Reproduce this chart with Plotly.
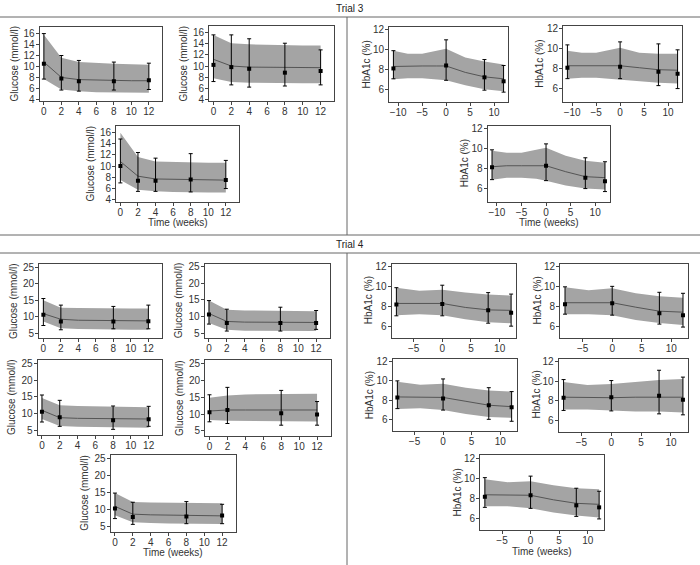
import plotly.graph_objects as go

# ---------------- DATA ----------------
# Trial 3 glucose
T3_GLU_OBS_X = [0, 2, 4, 8, 12]
T3_GLU_BAND_X = [0, 2, 4, 6, 8, 10, 12]
g1_band_hi = [15.8, 11.6, 10.8, 10.6, 10.5, 10.4, 10.3]
g1_band_lo = [7.7, 5.8, 5.5, 5.3, 5.2, 5.2, 5.2]
g1_fit = [10.8, 8.0, 7.6, 7.5, 7.4, 7.4, 7.4]
g1_mean = [10.5, 7.8, 7.3, 7.3, 7.5]
g1_lo = [7.7, 5.7, 5.5, 5.7, 5.8]
g1_hi = [16.0, 12.0, 11.1, 10.8, 10.6]

g2_band_hi = [15.6, 14.1, 13.9, 13.8, 13.7, 13.7, 13.7]
g2_band_lo = [7.8, 7.1, 7.0, 6.95, 6.9, 6.9, 6.9]
g2_fit = [11.2, 10.0, 9.8, 9.75, 9.7, 9.7, 9.7]
g2_mean = [10.2, 9.8, 9.5, 8.8, 9.1]
g2_lo = [7.2, 6.6, 6.2, 6.4, 6.6]
g2_hi = [15.6, 15.6, 14.9, 14.1, 12.9]

g3_band_hi = [15.9, 11.6, 10.8, 10.7, 10.6, 10.6, 10.6]
g3_band_lo = [7.5, 5.8, 5.5, 5.4, 5.3, 5.3, 5.3]
g3_fit = [10.8, 8.2, 7.7, 7.65, 7.6, 7.55, 7.5]
g3_mean = [10.0, 7.4, 7.4, 7.6, 7.5]
g3_lo = [7.0, 5.5, 5.5, 5.4, 6.0]
g3_hi = [14.8, 12.4, 11.4, 12.2, 11.0]

# Trial 4 glucose
T4_GLU_OBS_X = [0, 2, 8, 12]
T4_GLU_BAND_X = [0, 2, 4, 6, 8, 10, 12]
g4_band_hi = [15.0, 12.7, 12.6, 12.5, 12.5, 12.5, 12.5]
g4_band_lo = [8.5, 6.5, 6.2, 6.1, 6.0, 6.0, 6.0]
g4_fit = [10.9, 9.2, 8.9, 8.8, 8.7, 8.7, 8.7]
g4_mean = [10.6, 8.5, 8.5, 8.6]
g4_lo = [7.3, 6.0, 6.3, 6.3]
g4_hi = [15.5, 13.5, 13.1, 13.5]

g5_band_hi = [14.8, 12.0, 11.8, 11.7, 11.6, 11.6, 11.6]
g5_band_lo = [8.0, 6.0, 5.7, 5.65, 5.6, 5.6, 5.6]
g5_fit = [10.9, 8.5, 8.3, 8.25, 8.2, 8.2, 8.2]
g5_mean = [10.6, 8.0, 8.0, 8.0]
g5_lo = [7.7, 5.6, 5.6, 6.1]
g5_hi = [14.8, 12.2, 12.8, 11.8]

g6_band_hi = [14.6, 12.4, 12.2, 12.1, 12.0, 11.9, 11.8]
g6_band_lo = [8.3, 6.2, 6.0, 5.9, 5.8, 5.75, 5.7]
g6_fit = [10.9, 8.7, 8.5, 8.4, 8.3, 8.3, 8.3]
g6_mean = [10.5, 8.8, 7.9, 8.2]
g6_lo = [7.4, 6.1, 5.2, 6.1]
g6_hi = [15.5, 13.9, 12.2, 12.1]

g7_band_hi = [14.8, 15.5, 15.8, 15.9, 16.0, 16.0, 16.0]
g7_band_lo = [8.2, 8.0, 7.9, 7.85, 7.8, 7.8, 7.8]
g7_fit = [10.9, 11.2, 11.2, 11.2, 11.2, 11.2, 11.2]
g7_mean = [10.5, 11.2, 10.2, 9.9]
g7_lo = [7.7, 7.2, 6.7, 6.7]
g7_hi = [15.7, 17.9, 17.0, 13.7]

g8_band_hi = [14.8, 12.2, 12.0, 11.9, 11.8, 11.8, 11.8]
g8_band_lo = [8.3, 6.2, 6.0, 5.85, 5.7, 5.7, 5.7]
g8_fit = [10.9, 8.6, 8.4, 8.3, 8.2, 8.15, 8.1]
g8_mean = [10.3, 7.8, 7.9, 8.2]
g8_lo = [7.3, 5.6, 5.8, 5.8]
g8_hi = [14.8, 12.1, 12.3, 11.5]

# Trial 3 HbA1c
T3_HBA_OBS_X = [-11, 0, 8, 12]
T3_HBA_BAND_X = [-11, -8, -5, -2, 0, 4, 8, 12]
h1_band_hi = [9.9, 9.6, 9.6, 9.9, 10.1, 9.2, 8.8, 8.5]
h1_band_lo = [7.0, 7.1, 7.1, 7.0, 6.9, 6.4, 6.0, 5.8]
h1_fit = [8.3, 8.35, 8.35, 8.35, 8.35, 7.7, 7.25, 7.05]
h1_mean = [8.1, 8.4, 7.2, 6.8]
h1_lo = [7.05, 6.9, 5.9, 5.7]
h1_hi = [9.9, 11.0, 9.0, 8.4]

h2_band_hi = [9.8, 9.6, 9.6, 9.9, 10.1, 9.6, 9.5, 9.5]
h2_band_lo = [7.0, 7.1, 7.1, 7.0, 6.9, 6.75, 6.6, 6.5]
h2_fit = [8.3, 8.3, 8.3, 8.3, 8.3, 8.1, 7.9, 7.85]
h2_mean = [8.1, 8.2, 7.7, 7.5]
h2_lo = [7.0, 7.0, 6.3, 6.0]
h2_hi = [10.4, 10.7, 10.5, 9.9]

h3_band_hi = [9.8, 9.6, 9.6, 9.9, 10.1, 9.3, 8.8, 8.6]
h3_band_lo = [6.9, 7.1, 7.1, 7.0, 6.8, 6.3, 6.0, 5.9]
h3_fit = [8.2, 8.3, 8.3, 8.3, 8.3, 7.7, 7.2, 7.1]
h3_mean = [8.15, 8.3, 7.1, 6.75]
h3_lo = [6.9, 6.8, 6.0, 5.7]
h3_hi = [9.9, 10.5, 9.1, 8.7]

# Trial 4 HbA1c
T4_HBA_OBS_X = [-8, 0, 8, 12]
T4_HBA_BAND_X = [-8, -4, 0, 4, 8, 12]
h4_band_hi = [9.9, 9.6, 9.7, 9.4, 9.2, 9.1]
h4_band_lo = [7.1, 7.2, 7.1, 6.7, 6.4, 6.3]
h4_fit = [8.3, 8.3, 8.3, 7.9, 7.65, 7.6]
h4_mean = [8.2, 8.25, 7.6, 7.35]
h4_lo = [7.05, 7.05, 6.3, 6.0]
h4_hi = [9.9, 10.15, 9.4, 9.25]

h5_band_hi = [9.9, 9.6, 9.8, 9.3, 9.0, 8.85]
h5_band_lo = [7.2, 7.2, 7.1, 6.6, 6.3, 6.1]
h5_fit = [8.35, 8.35, 8.35, 7.9, 7.5, 7.4]
h5_mean = [8.2, 8.3, 7.3, 7.1]
h5_lo = [7.2, 7.1, 6.2, 5.9]
h5_hi = [9.95, 10.0, 9.4, 9.3]

h6_band_hi = [9.9, 9.6, 9.7, 9.3, 9.0, 8.9]
h6_band_lo = [7.1, 7.2, 7.0, 6.6, 6.3, 6.2]
h6_fit = [8.35, 8.3, 8.3, 7.9, 7.5, 7.35]
h6_mean = [8.3, 8.2, 7.5, 7.3]
h6_lo = [7.15, 7.0, 6.05, 5.85]
h6_hi = [10.0, 10.2, 9.3, 8.9]

h7_band_hi = [9.9, 9.6, 9.7, 9.9, 10.1, 10.2]
h7_band_lo = [7.1, 7.1, 7.0, 6.9, 6.9, 6.8]
h7_fit = [8.35, 8.3, 8.3, 8.35, 8.35, 8.35]
h7_mean = [8.3, 8.35, 8.5, 8.1]
h7_lo = [7.0, 6.95, 6.65, 6.55]
h7_hi = [10.15, 10.05, 11.1, 10.4]

h8_band_hi = [9.9, 9.6, 9.7, 9.3, 9.0, 8.9]
h8_band_lo = [7.2, 7.2, 7.0, 6.6, 6.3, 6.1]
h8_fit = [8.35, 8.3, 8.3, 7.85, 7.5, 7.4]
h8_mean = [8.15, 8.3, 7.3, 7.1]
h8_lo = [7.1, 7.0, 6.2, 5.95]
h8_hi = [10.05, 10.2, 9.0, 8.7]

T3_GLU_YTICKS = [4, 6, 8, 10, 12, 14, 16]
T4_GLU_YTICKS = [5, 10, 15, 20, 25]
HBA_YTICKS = [6, 8, 10, 12]
GLU_XTICKS = [0, 2, 4, 6, 8, 10, 12]
T3_HBA_XTICKS = [-10, -5, 0, 5, 10]
T4_HBA_XTICKS = [-5, 0, 5, 10]

GLU_TITLE = "Glucose (mmol/l)"
HBA_TITLE = "HbA1c (%)"
X_TITLE = "Time (weeks)"
HEADERS = ["Trial 3", "Trial 4"]

# ---------------- LAYOUT ----------------
W, H = 700, 565
FONT = "Liberation Sans, Arial, sans-serif"
BAND = "#a4a4a4"
FIT = "#555555"
FRAME = "#444444"
TXT = "#333333"

panels = [
    ((39.5, 162, 27, 101), T3_GLU_BAND_X, g1_band_hi, g1_band_lo, g1_fit, T3_GLU_OBS_X, g1_mean, g1_lo, g1_hi,
     [-0.5, 13.5], [3.7, 17.2], GLU_XTICKS, T3_GLU_YTICKS, GLU_TITLE, None),
    ((209, 334, 26, 101), T3_GLU_BAND_X, g2_band_hi, g2_band_lo, g2_fit, T3_GLU_OBS_X, g2_mean, g2_lo, g2_hi,
     [-0.5, 13.5], [3.7, 17.2], GLU_XTICKS, T3_GLU_YTICKS, GLU_TITLE, None),
    ((116, 239, 125.5, 201.5), T3_GLU_BAND_X, g3_band_hi, g3_band_lo, g3_fit, T3_GLU_OBS_X, g3_mean, g3_lo, g3_hi,
     [-0.5, 13.5], [3.7, 17.2], GLU_XTICKS, T3_GLU_YTICKS, GLU_TITLE, X_TITLE),
    ((389, 508, 27, 102), T3_HBA_BAND_X, h1_band_hi, h1_band_lo, h1_fit, T3_HBA_OBS_X, h1_mean, h1_lo, h1_hi,
     [-11.92, 12.92], [4.7, 12.3], T3_HBA_XTICKS, HBA_YTICKS, HBA_TITLE, None),
    ((563, 682, 26, 101.5), T3_HBA_BAND_X, h2_band_hi, h2_band_lo, h2_fit, T3_HBA_OBS_X, h2_mean, h2_lo, h2_hi,
     [-11.92, 12.92], [4.7, 12.3], T3_HBA_XTICKS, HBA_YTICKS, HBA_TITLE, None),
    ((487.5, 609.5, 126, 201.5), T3_HBA_BAND_X, h3_band_hi, h3_band_lo, h3_fit, T3_HBA_OBS_X, h3_mean, h3_lo, h3_hi,
     [-11.92, 12.92], [4.7, 12.3], T3_HBA_XTICKS, HBA_YTICKS, HBA_TITLE, X_TITLE),
    ((39, 161.5, 264, 338), T4_GLU_BAND_X, g4_band_hi, g4_band_lo, g4_fit, T4_GLU_OBS_X, g4_mean, g4_lo, g4_hi,
     [-0.5, 13.5], [3.5, 26], GLU_XTICKS, T4_GLU_YTICKS, GLU_TITLE, None),
    ((204.5, 329.5, 263.5, 338), T4_GLU_BAND_X, g5_band_hi, g5_band_lo, g5_fit, T4_GLU_OBS_X, g5_mean, g5_lo, g5_hi,
     [-0.5, 13.5], [3.5, 26], GLU_XTICKS, T4_GLU_YTICKS, GLU_TITLE, None),
    ((37.5, 162, 360, 435), T4_GLU_BAND_X, g6_band_hi, g6_band_lo, g6_fit, T4_GLU_OBS_X, g6_mean, g6_lo, g6_hi,
     [-0.5, 13.5], [3.5, 26], GLU_XTICKS, T4_GLU_YTICKS, GLU_TITLE, None),
    ((205, 330.5, 360, 436), T4_GLU_BAND_X, g7_band_hi, g7_band_lo, g7_fit, T4_GLU_OBS_X, g7_mean, g7_lo, g7_hi,
     [-0.5, 13.5], [3.5, 26], GLU_XTICKS, T4_GLU_YTICKS, GLU_TITLE, None),
    ((110.5, 235.5, 455, 531.5), T4_GLU_BAND_X, g8_band_hi, g8_band_lo, g8_fit, T4_GLU_OBS_X, g8_mean, g8_lo, g8_hi,
     [-0.5, 13.5], [3.5, 26], GLU_XTICKS, T4_GLU_YTICKS, GLU_TITLE, X_TITLE),
    ((391.5, 516, 264, 337.5), T4_HBA_BAND_X, h4_band_hi, h4_band_lo, h4_fit, T4_HBA_OBS_X, h4_mean, h4_lo, h4_hi,
     [-8.85, 12.85], [4.85, 12.3], T4_HBA_XTICKS, HBA_YTICKS, HBA_TITLE, None),
    ((560, 688, 263.5, 337.5), T4_HBA_BAND_X, h5_band_hi, h5_band_lo, h5_fit, T4_HBA_OBS_X, h5_mean, h5_lo, h5_hi,
     [-8.85, 12.85], [4.85, 12.3], T4_HBA_XTICKS, HBA_YTICKS, HBA_TITLE, None),
    ((392.5, 516.5, 358.5, 431), T4_HBA_BAND_X, h6_band_hi, h6_band_lo, h6_fit, T4_HBA_OBS_X, h6_mean, h6_lo, h6_hi,
     [-8.85, 12.85], [4.85, 12.3], T4_HBA_XTICKS, HBA_YTICKS, HBA_TITLE, None),
    ((558.5, 688, 358.5, 431.5), T4_HBA_BAND_X, h7_band_hi, h7_band_lo, h7_fit, T4_HBA_OBS_X, h7_mean, h7_lo, h7_hi,
     [-8.85, 12.85], [4.85, 12.3], T4_HBA_XTICKS, HBA_YTICKS, HBA_TITLE, None),
    ((480, 604, 455, 530), T4_HBA_BAND_X, h8_band_hi, h8_band_lo, h8_fit, T4_HBA_OBS_X, h8_mean, h8_lo, h8_hi,
     [-8.85, 12.85], [4.85, 12.3], T4_HBA_XTICKS, HBA_YTICKS, HBA_TITLE, X_TITLE),
]

fig = go.Figure()
layout = {}
annotations = []
TFONT = dict(size=10, color=TXT, family=FONT)

for i, p in enumerate(panels, start=1):
    (x0, x1, y0, y1), bx, bhi, blo, fit, ox, mean, lo, hi, xr, yr, xt, yt, ytitle, xtitle = p
    xa = "x" if i == 1 else f"x{i}"
    ya = "y" if i == 1 else f"y{i}"
    fig.add_trace(go.Scatter(
        x=list(bx) + list(bx)[::-1], y=list(bhi) + list(blo)[::-1],
        fill="toself", fillcolor=BAND, line=dict(width=0), mode="lines",
        hoverinfo="skip", showlegend=False, xaxis=xa, yaxis=ya))
    fig.add_trace(go.Scatter(
        x=bx, y=fit, mode="lines", line=dict(color=FIT, width=1),
        showlegend=False, xaxis=xa, yaxis=ya))
    fig.add_trace(go.Scatter(
        x=ox, y=mean, mode="markers",
        marker=dict(symbol="square", size=4, color="black"),
        error_y=dict(type="data", symmetric=False,
                     array=[h - m for h, m in zip(hi, mean)],
                     arrayminus=[m - l for m, l in zip(mean, lo)],
                     color="black", thickness=1, width=2),
        showlegend=False, xaxis=xa, yaxis=ya))

    xkey = "xaxis" if i == 1 else f"xaxis{i}"
    ykey = "yaxis" if i == 1 else f"yaxis{i}"
    layout[xkey] = dict(
        domain=[x0 / W, x1 / W], anchor=ya, range=xr, tickvals=xt,
        showgrid=False, zeroline=False, showline=True, mirror=True,
        linecolor=FRAME, linewidth=1, ticks="outside", ticklen=3, tickcolor=FRAME,
        ticklabelstandoff=-2,
        tickfont=TFONT, automargin=False,
    )
    layout[ykey] = dict(
        domain=[1 - y1 / H, 1 - y0 / H], anchor=xa, range=yr, tickvals=yt,
        showgrid=False, zeroline=False, showline=True, mirror=True,
        linecolor=FRAME, linewidth=1, ticks="outside", ticklen=3, tickcolor=FRAME,
        ticklabelstandoff=-1,
        tickfont=TFONT, automargin=False,
    )
    off = 26 if ytitle == GLU_TITLE else 23
    annotations.append(dict(
        text=ytitle, xref="paper", yref="paper", x=(x0 - off) / W, y=1 - (y0 + y1) / 2 / H,
        textangle=-90, showarrow=False, font=TFONT, xanchor="center", yanchor="middle"))
    if xtitle:
        annotations.append(dict(
            text=xtitle, xref="paper", yref="paper", x=(x0 + x1) / 2 / W, y=1 - (y1 + 21) / H,
            showarrow=False, font=TFONT, xanchor="center", yanchor="middle"))

LINE = dict(color="#666666", width=1)
shapes = [
    dict(type="line", xref="paper", yref="paper", x0=0, x1=1, y0=1 - 17 / H, y1=1 - 17 / H, line=LINE),
    dict(type="line", xref="paper", yref="paper", x0=0, x1=1, y0=1 - 235 / H, y1=1 - 235 / H, line=LINE),
    dict(type="line", xref="paper", yref="paper", x0=0, x1=1, y0=1 - 253 / H, y1=1 - 253 / H, line=LINE),
    dict(type="line", xref="paper", yref="paper", x0=347 / W, x1=347 / W, y0=1 - 17 / H, y1=1 - 235 / H, line=LINE),
    dict(type="line", xref="paper", yref="paper", x0=347 / W, x1=347 / W, y0=1 - 253 / H, y1=0, line=LINE),
]
for txt, yy in zip(HEADERS, [9, 244]):
    annotations.append(dict(text=txt, xref="paper", yref="paper", x=350 / W, y=1 - yy / H, showarrow=False,
                            font=dict(size=10, color="#222222", family=FONT), xanchor="center", yanchor="middle"))

fig.update_layout(
    width=W, height=H, margin=dict(l=0, r=0, t=0, b=0),
    paper_bgcolor="white", plot_bgcolor="white",
    shapes=shapes, annotations=annotations, showlegend=False,
    **layout,
)

fig.write_html("out.html", config={"displayModeBar": False},
               post_script="document.body.style.margin='0';document.body.style.overflow='hidden';")
